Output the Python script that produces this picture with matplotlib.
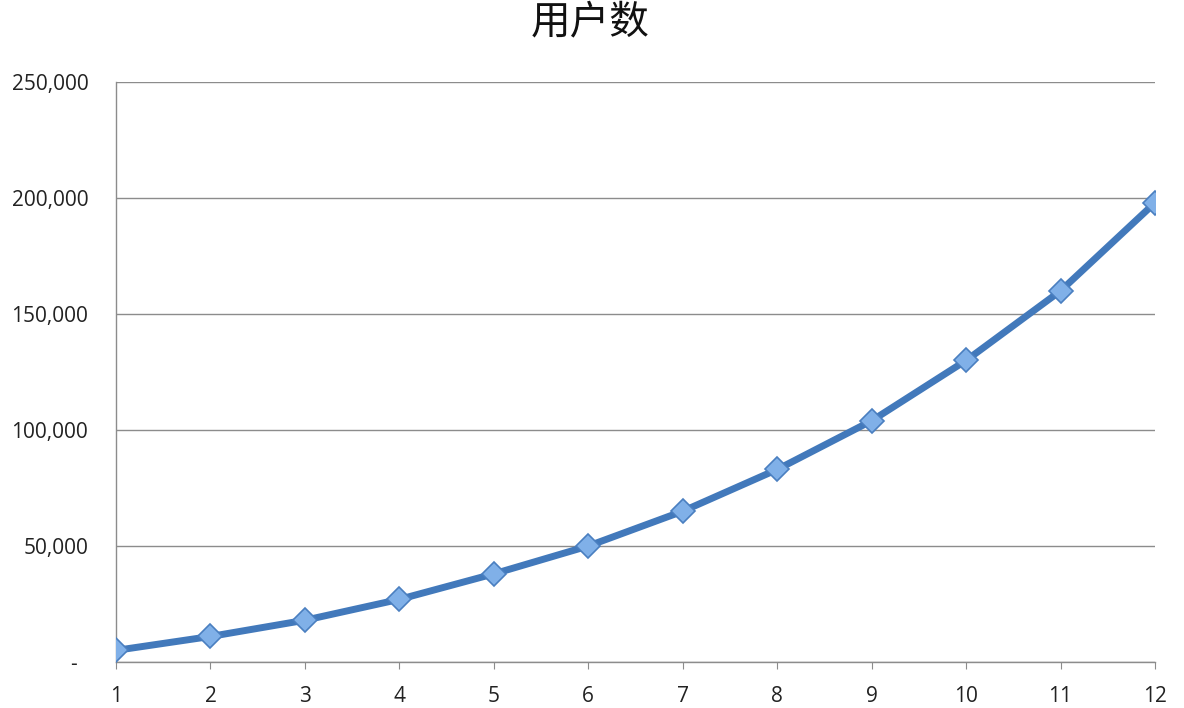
import matplotlib
matplotlib.use("Agg")
import matplotlib.pyplot as plt
from matplotlib.ticker import FuncFormatter, FixedLocator

plt.rcParams['font.family'] = ['Noto Sans CJK SC', 'DejaVu Sans']

months = [1, 2, 3, 4, 5, 6, 7, 8, 9, 10, 11, 12]
users = [5000, 11000, 18000, 27000, 38000, 50000, 65000, 83000, 104000, 130000, 160000, 198000]
y_ticks = [0, 50000, 100000, 150000, 200000, 250000]
title = "用户数"

fig = plt.figure(figsize=(11.84, 7.08), dpi=100)
ax = fig.add_axes([0.098, 0.065, 0.8775, 0.819])

ax.plot(months, users, color="#4279bb", linewidth=5.0, solid_capstyle="round", zorder=3,
        marker="D", markersize=12, markerfacecolor="#80b0e8", markeredgecolor="#4a7fc0",
        markeredgewidth=1.2)

ax.set_xlim(1, 12)
ax.set_ylim(0, 250000)
ax.yaxis.set_major_locator(FixedLocator(y_ticks))
ax.set_xticks(months)
ax.yaxis.set_major_formatter(FuncFormatter(lambda v, p: "-  " if v == 0 else f"{int(v):,}"))
ax.grid(axis="y", color="#8c8c8c", linewidth=1.0)
ax.set_axisbelow(True)
for s in ["top", "right"]:
    ax.spines[s].set_visible(False)
for s in ["left", "bottom"]:
    ax.spines[s].set_color("#8c8c8c")
    ax.spines[s].set_linewidth(1.0)
ax.tick_params(axis="y", length=0, pad=20, labelsize=15, labelcolor="#222222")
ax.tick_params(axis="x", length=5, color="#8c8c8c", pad=12, labelsize=15, labelcolor="#222222")
for lab in ax.get_xticklabels() + ax.get_yticklabels():
    lab.set_family(['Open Sans', 'DejaVu Sans'])
fig.text(0.4985, 1 - 22 / 708, title, fontsize=28.5, ha="center", va="center", color="#111111")
ax.patch.set_facecolor("white")

fig.savefig("out.png", dpi=100, facecolor="white")
